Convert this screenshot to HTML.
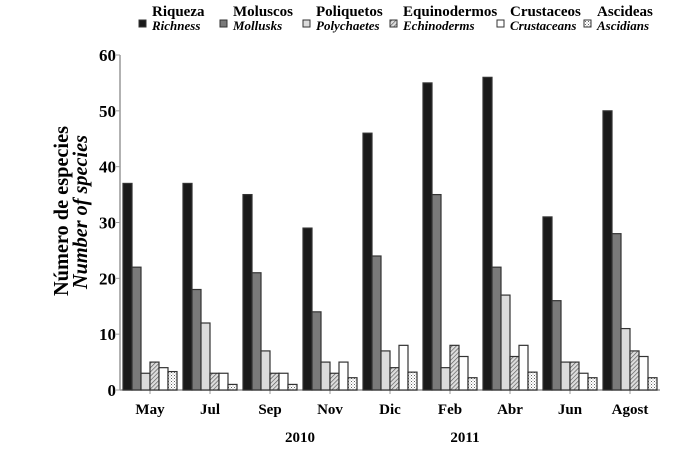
<!DOCTYPE html>
<html><head><meta charset="utf-8"><style>
body{margin:0;background:#fff;}
svg{font-family:"Liberation Serif",serif;font-weight:bold;}
</style></head><body>
<svg width="674" height="447" xmlns="http://www.w3.org/2000/svg">
<defs>
<pattern id="hatch" width="3" height="3" patternUnits="userSpaceOnUse" patternTransform="rotate(45)"><rect width="3" height="3" fill="#ddd"/><line x1="0" y1="0" x2="0" y2="3" stroke="#555" stroke-width="1.3"/></pattern>
<pattern id="dots" width="3" height="3" patternUnits="userSpaceOnUse"><rect width="3" height="3" fill="#fff"/><rect x="0" y="0" width="1" height="1" fill="#666"/><rect x="1.5" y="1.5" width="1" height="1" fill="#999"/></pattern>
</defs>
<g id="legend"></g>
<g id="axes"></g>
<g id="bars"></g>
<text x="68" y="211" transform="rotate(-90 68 211)" text-anchor="middle" font-size="21" font-weight="bold" textLength="170" lengthAdjust="spacingAndGlyphs">Número de especies</text>
<text x="87" y="212" transform="rotate(-90 87 212)" text-anchor="middle" font-size="21" font-style="italic" font-weight="bold" textLength="154" lengthAdjust="spacingAndGlyphs">Number of species</text>
<text x="300" y="442" text-anchor="middle" font-size="15">2010</text>
<text x="465" y="442" text-anchor="middle" font-size="15">2011</text>
</svg>
<script>
const months=["May","Jul","Sep","Nov","Dic","Feb","Abr","Jun","Agost"];
const riqueza=[37,37,35,29,46,55,56,31,50];
const moluscos=[22,18,21,14,24,35,22,16,28];
const poliquetos=[3,12,7,5,7,4,17,5,11];
const equinodermos=[5,3,3,3,4,8,6,5,7];
const crustaceos=[4,3,3,5,8,6,8,3,6];
const ascideas=[3.3,1,1,2.2,3.2,2.2,3.2,2.2,2.2];
const yTicks=[0,10,20,30,40,50,60];
const seriesNames=["Riqueza","Moluscos","Poliquetos","Equinodermos","Crustaceos","Ascideas"];
const seriesEn=["Richness","Mollusks","Polychaetes","Echinoderms","Crustaceans","Ascidians"];
const series=[riqueza,moluscos,poliquetos,equinodermos,crustaceos,ascideas];
const fills=["#1a1a1a","#7a7a7a","#dcdcdc","url(#hatch)","#ffffff","url(#dots)"];
const NS="http://www.w3.org/2000/svg";
const x0=120,x1=660,y0=390,yTop=55,ymax=60;
const y=v=>y0-(v/ymax)*(y0-yTop);
const xc=i=>150+i*60;
const bw=9;
function mk(tag,attrs,parent,text){const e=document.createElementNS(NS,tag);for(const k in attrs)e.setAttribute(k,attrs[k]);if(text!==undefined)e.textContent=text;parent.appendChild(e);return e;}
const ax=document.getElementById('axes');
let l=mk('line',{x1:x0,y1:yTop,x2:x0,y2:y0,stroke:'#999','stroke-width':1.5},ax);


l=mk('line',{x1:x0,y1:y0,x2:x1,y2:y0,stroke:'#999','stroke-width':1.5},ax);


yTicks.forEach(t=>{
 mk('line',{x1:x0-4,y1:y(t),x2:x0,y2:y(t),stroke:'#999'},ax);
 const tx=mk('text',{x:x0-4,y:y(t)+6,'text-anchor':'end','font-size':17},ax,t);
 
 
});
const bg=document.getElementById('bars');
months.forEach((m,i)=>{
 mk('line',{x1:xc(i),y1:y0,x2:xc(i),y2:y0+4,stroke:'#999'},ax);
 const tx=mk('text',{x:xc(i),y:414,'text-anchor':'middle','font-size':15},ax,m);
 
 
 series.forEach((s,j)=>{
  const r=mk('rect',{x:xc(i)-27+j*bw,y:y(s[i]),width:bw,height:y0-y(s[i]),fill:fills[j],stroke:'#333','stroke-width':1.2},bg);
  
  
 });
});
const lg=document.getElementById('legend');
const lx=[152,233,316,403,510,597];
seriesNames.forEach((n,j)=>{
 const g=mk('g',{},lg);
 
 
 mk('rect',{x:lx[j]-13,y:20,width:7,height:7,fill:fills[j],stroke:'#333','stroke-width':1},g);
 mk('text',{x:lx[j],y:16,'font-size':15},g,n);
 mk('text',{x:lx[j],y:30,'font-size':13,'font-style':'italic'},g,seriesEn[j]);
});
</script>
</body></html>
